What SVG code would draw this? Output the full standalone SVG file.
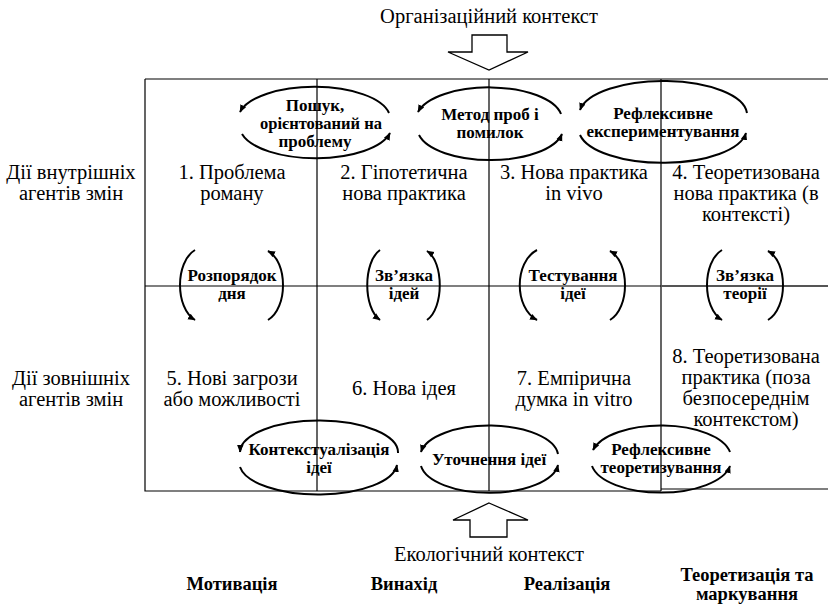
<svg xmlns="http://www.w3.org/2000/svg" width="828" height="604" viewBox="0 0 828 604">
<style>
.t{font-family:'Liberation Serif','DejaVu Serif',serif;font-size:20.5px;fill:#000;text-anchor:middle}
.b{font-family:'Liberation Serif','DejaVu Serif',serif;font-size:17px;font-weight:bold;fill:#000;text-anchor:middle}
.s{font-family:'Liberation Serif','DejaVu Serif',serif;font-size:18.5px;font-weight:bold;fill:#000;text-anchor:middle}
.g{stroke:#000;stroke-width:1.2;fill:none}
.c{stroke:#000;stroke-width:2;fill:none;marker-end:url(#ah)}
.blk{fill:#fff;stroke:#000;stroke-width:1.3}
</style>
<defs>
<marker id="ah" markerUnits="userSpaceOnUse" markerWidth="9" markerHeight="8" refX="7" refY="4" orient="auto">
<path d="M0,0.8 L7.5,4 L0,7.2 z" fill="#000"/>
</marker>
</defs>
<rect width="828" height="604" fill="#fff"/>

<g id="grid">
<path class="g" d="M145,79 H828 M145,79 V491 H661 M661,489 H828 M317,79 V491 M489,79 V491 M661,79 V491 M145,286 H661"/>
<path d="M661,286 H828" stroke="#555" stroke-width="1.8" fill="none"/>
</g>

<g id="context-top">
<text class="t" x="489" y="23">Організаційний контекст</text>
<path class="blk" d="M472,35 H507 V52 H528 L489,70 L448,52 H472 Z"/>
</g>
<g id="context-bottom">
<path class="blk" d="M489,503 L528,520 H507 V537 H470 V520 H453 Z"/>
<text class="t" x="489" y="561">Екологічний контекст</text>
</g>

<g id="row-labels">
<text class="t" x="71" y="179">Дії внутрішніх</text>
<text class="t" x="71" y="200">агентів змін</text>
<text class="t" x="71" y="385">Дії зовнішніх</text>
<text class="t" x="71" y="406">агентів змін</text>
</g>

<g id="cell1"><text class="t" x="232" y="179">1. Проблема</text><text class="t" x="232" y="200">роману</text></g>
<g id="cell2"><text class="t" x="404" y="179">2. Гіпотетична</text><text class="t" x="404" y="200">нова практика</text></g>
<g id="cell3"><text class="t" x="574" y="179">3. Нова практика</text><text class="t" x="574" y="200">in vivo</text></g>
<g id="cell4"><text class="t" x="746" y="179">4. Теоретизована</text><text class="t" x="746" y="200">нова практика (в</text><text class="t" x="746" y="221">контексті)</text></g>
<g id="cell5"><text class="t" x="232" y="385">5. Нові загрози</text><text class="t" x="232" y="406">або можливості</text></g>
<g id="cell6"><text class="t" x="404" y="395">6. Нова ідея</text></g>
<g id="cell7"><text class="t" x="574" y="385">7. Емпірична</text><text class="t" x="574" y="406">думка in vitro</text></g>
<g id="cell8"><text class="t" x="746" y="363">8. Теоретизована</text><text class="t" x="746" y="384">практика (поза</text><text class="t" x="746" y="405">безпосереднім</text><text class="t" x="746" y="426">контекстом)</text></g>

<g id="connectors">
<path class="c" d="M389,113 A76,32 0 0 0 240,112"/>
<path class="c" d="M242,134 A76,32 0 0 0 390,133"/>
<path class="c" d="M561,114 A73,32 0 0 0 418,112"/>
<path class="c" d="M419,135 A73,32 0 0 0 562,134"/>
<path class="c" d="M747,113 A84,34 0 0 0 580,110"/>
<path class="c" d="M580,135 A84,34 0 0 0 746,133"/>
<path class="c" d="M398,453 A79,32 0 0 0 240,452"/>
<path class="c" d="M240,467 A79,32 0 0 0 397,465"/>
<path class="c" d="M558,454 A69,31 0 0 0 421,452"/>
<path class="c" d="M421,466 A69,31 0 0 0 558,465"/>
<path class="c" d="M730,452 A70,32 0 0 0 593,450"/>
<path class="c" d="M592,466 A70,32 0 0 0 730,466"/>
<path class="c" d="M195,250 C175,262 175,308 195,320"/>
<path class="c" d="M268,320 C288,308 288,262 268,251"/>
<path class="c" d="M380,250 C363,262 363,308 380,320"/>
<path class="c" d="M427,320 C444,308 444,262 427,251"/>
<path class="c" d="M537,250 C514,262 514,308 537,320"/>
<path class="c" d="M610,320 C630,308 630,262 610,251"/>
<path class="c" d="M722,250 C702,262 702,308 722,320"/>
<path class="c" d="M768,320 C788,308 788,262 768,251"/>
</g>

<g id="p-search"><text class="b" x="315" y="111">Пошук,</text><text class="b" x="321" y="129" textLength="122" lengthAdjust="spacingAndGlyphs">орієнтований на</text><text class="b" x="315" y="147">проблему</text></g>
<g id="p-trial"><text class="b" x="490" y="120">Метод проб і</text><text class="b" x="490" y="138">помилок</text></g>
<g id="p-reflexp"><text class="b" x="663" y="119">Рефлексивне</text><text class="b" x="663" y="137">експериментування</text></g>
<g id="p-routine"><text class="b" x="232" y="281">Розпорядок</text><text class="b" x="232" y="299">дня</text></g>
<g id="p-ideas"><text class="b" x="404" y="281">Зв’язка</text><text class="b" x="404" y="299">ідей</text></g>
<g id="p-testing"><text class="b" x="573" y="281">Тестування</text><text class="b" x="573" y="299">ідеї</text></g>
<g id="p-theory"><text class="b" x="745" y="281">Зв’язка</text><text class="b" x="745" y="299">теорії</text></g>
<g id="p-context"><text class="b" x="319" y="455">Контекстуалізація</text><text class="b" x="319" y="473">ідеї</text></g>
<g id="p-refine"><text class="b" x="489" y="465">Уточнення ідеї</text></g>
<g id="p-refltheor"><text class="b" x="661" y="455">Рефлексивне</text><text class="b" x="661" y="473">теоретизування</text></g>

<g id="stages">
<text class="s" x="232" y="590">Мотивація</text>
<text class="s" x="404" y="590">Винахід</text>
<text class="s" x="567" y="590">Реалізація</text>
<text class="s" x="747" y="581">Теоретизація та</text>
<text class="s" x="747" y="600">маркування</text>
</g>
</svg>
